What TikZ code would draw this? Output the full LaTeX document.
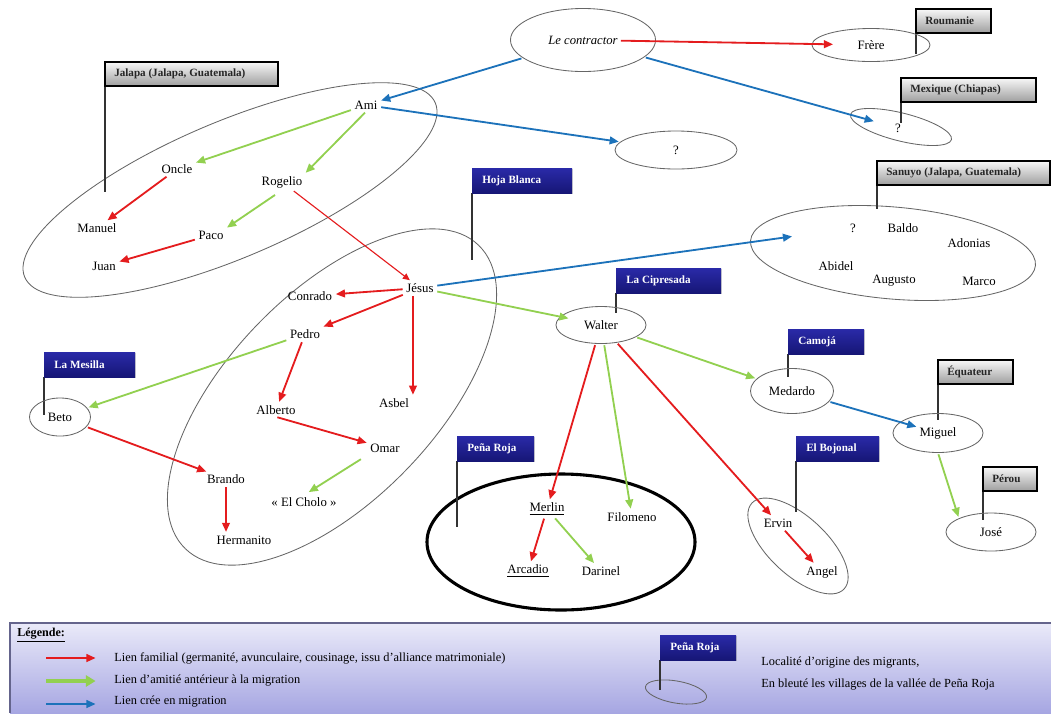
\documentclass[tikz,border=0pt]{standalone}
\usepackage{fontspec}
\setmainfont{Liberation Serif}
\usepackage{tikz}
\usetikzlibrary{arrows.meta,shapes.geometric,shadows}

\definecolor{famred}{RGB}{228,28,30}
\definecolor{amigreen}{RGB}{146,208,80}
\definecolor{migblue}{RGB}{28,114,186}
\definecolor{navytop}{RGB}{42,42,168}
\definecolor{navybot}{RGB}{22,22,118}
\definecolor{legtop}{RGB}{234,234,249}
\definecolor{legbot}{RGB}{166,166,226}
\definecolor{legline}{RGB}{100,100,140}

\tikzset{
  person/.style={inner sep=1.5pt, font=\fontsize{9.1}{11}\selectfont},
  solo/.style={ellipse, draw=black!60, line width=0.6pt, inner sep=0pt, font=\fontsize{9.1}{11}\selectfont},
  zone/.style={draw=black!60, line width=0.6pt},
  famlink/.style={draw=famred, line width=1.3pt, shorten >=1pt, shorten <=1pt, -{Triangle[length=6.5pt,width=5.5pt]}},
  amilink/.style={draw=amigreen, line width=1.3pt, shorten >=1pt, shorten <=1pt, -{Triangle[length=6.5pt,width=5.5pt]}},
  miglink/.style={draw=migblue, line width=1.3pt, shorten >=1pt, shorten <=1pt, -{Triangle[length=6.5pt,width=5.5pt]}},
  pole/.style={draw=black!80, line width=1pt},
  gflag/.style={draw=black, line width=0.9pt, top color=black!3, bottom color=black!38, drop shadow={shadow xshift=1pt, shadow yshift=-1pt, opacity=.35}},
  bflag/.style={top color=navytop, bottom color=navybot, drop shadow={shadow xshift=1pt, shadow yshift=-1pt, opacity=.35}},
  flagtext/.style={anchor=west, inner sep=0pt, font=\fontsize{7.9}{9}\selectfont\bfseries},
  legtext/.style={anchor=west, inner sep=0pt, font=\fontsize{8.8}{10}\selectfont},
}

\begin{document}
\begin{tikzpicture}[x=0.025cm, y=-0.025cm]
\useasboundingbox (0,0) rectangle (1051,713);

% legende (fond)
\shade[top color=legtop, bottom color=legbot] (10,623) rectangle (1051,713);
\draw[draw=legline, line width=0.8pt] (1051,623) -- (10,623) -- (10,713);

% zones
\draw[zone, rotate around={23:(230,190)}] (230,190) ellipse [x radius=223, y radius=68];
\draw[zone, rotate around={46:(332,397)}] (332,397) ellipse [x radius=211, y radius=104];
\draw[zone, rotate around={-5:(893,253)}] (893,253) ellipse [x radius=143, y radius=46];
\draw[zone, rotate around={-14:(901,127)}] (901,127) ellipse [x radius=52, y radius=14];
\draw[zone, rotate around={-43:(798,546)}] (798,546) ellipse [x radius=63, y radius=29];
\draw[line width=2.2pt] (561,542) ellipse [x radius=134, y radius=68];
\draw[zone, rotate around={-10:(676,692)}] (676,692) ellipse [x radius=31, y radius=11];

% drapeaux gris
\foreach \lbl/\xa/\ya/\xb/\yp [count=\i] in {{Jalapa (Jalapa, Guatemala)}/105/62/278/192, Roumanie/916/9/991/54, {Mexique (Chiapas)}/901/78/1036/123, {Sanuyo (Jalapa, Guatemala)}/877/161/1050/209, Équateur/938/360/1013/420, Pérou/983/467/1037/520}{
  \draw[pole] (\xa,\ya+24) -- (\xa,\yp);
  \path[gflag] (\xa,\ya) rectangle (\xb,\ya+24);
  \node[flagtext, text=black!85] (gf\i) at (\xa+9,\ya+12) {\lbl};
}

% drapeaux bleus (vallee de Pena Roja)
\foreach \lbl/\xa/\ya/\xb/\yp [count=\i] in {Hoja Blanca/472/168/572/260, La Cipresada/616/268/721/313, Camojá/788/329/864/377, La Mesilla/44/352/135/415, Peña Roja/457/436/534/527, El Bojonal/796/436/879/512, Peña Roja/660/635/736/690}{
  \draw[pole] (\xa,\ya+25) -- (\xa,\yp);
  \path[bflag] (\xa,\ya) rectangle (\xb,\ya+25);
  \node[flagtext, text=white] (bf\i) at (\xa+10,\ya+12.5) {\lbl};
}

% personnes seules
\node[solo, minimum width=3.625cm, minimum height=1.575cm, font=\fontsize{9}{11}\selectfont\itshape] (lc) at (583,40) {Le contractor};
\node[solo, minimum width=2.95cm, minimum height=0.825cm] (frere) at (871,45) {Frère};
\node[solo, minimum width=3.05cm, minimum height=0.95cm] (qmid) at (676,150) {?};
\node[person] (qmex) at (898,128) {?};
\node[solo, minimum width=2.25cm, minimum height=0.925cm] (walter) at (601,325) {Walter};
\node[solo, minimum width=2.075cm, minimum height=1.125cm] (medardo) at (792,391) {Medardo};
\node[solo, minimum width=2.25cm, minimum height=0.975cm] (miguel) at (938,433) {Miguel};
\node[solo, minimum width=2.25cm, minimum height=0.95cm] (jose) at (991,532) {José};
\node[solo, minimum width=1.525cm, minimum height=0.95cm] (beto) at (60,417) {Beto};

% Jalapa
\node[person] (ami) at (366,105) {Ami};
\node[person] (oncle) at (177,169) {Oncle};
\node[person] (rogelio) at (282,182) {Rogelio};
\node[person] (manuel) at (97,228) {Manuel};
\node[person] (paco) at (211,235) {Paco};
\node[person] (juan) at (104,266) {Juan};

% Hoja Blanca
\node[person] (jesus) at (420,288) {Jésus};
\node[person] (conrado) at (310,296) {Conrado};
\node[person] (pedro) at (305,334) {Pedro};
\node[person] (alberto) at (276,410) {Alberto};
\node[person] (asbel) at (394,403) {Asbel};
\node[person] (omar) at (385,448) {Omar};
\node[person] (brando) at (226,479) {Brando};
\node[person] (cholo) at (304,502) {« El Cholo »};
\node[person] (hermanito) at (244,540) {Hermanito};

% Pena Roja
\node[person] (merlin) at (547,509) {\underline{Merlin}};
\node[person] (filomeno) at (632,517) {Filomeno};
\node[person] (arcadio) at (528,571) {\underline{Arcadio}};
\node[person] (darinel) at (601,571) {Darinel};

% El Bojonal
\node[person] (ervin) at (778,523) {Ervin};
\node[person] (angel) at (822,572) {Angel};

% Sanuyo
\node[person] (sq) at (853,228) {?};
\node[person] (baldo) at (903,228) {Baldo};
\node[person] (adonias) at (969,243) {Adonias};
\node[person] (abidel) at (836,266) {Abidel};
\node[person] (augusto) at (894,281) {Augusto};
\node[person] (marco) at (979,281) {Marco};

% liens crees en migration
\draw[miglink] (lc) -- (ami);
\draw[miglink, shorten >=14pt] (lc) -- (qmex);
\draw[miglink] (ami) -- (qmid);
\draw[miglink, shorten >=40pt] (jesus) -- (sq);
\draw[miglink, shorten >=16pt] (medardo) -- (miguel.center);

% liens familiaux
\coordinate (jsa) at ([xshift=-5pt]jesus.south);
\draw[famlink, shorten <=27pt, shorten >=27pt] (lc.center) -- (frere.center);
\draw[famlink] (oncle) -- (manuel);
\draw[famlink, line width=0.8pt, -{Triangle[length=5pt,width=4.5pt]}] (rogelio) -- (jesus);
\draw[famlink] (paco) -- (juan);
\draw[famlink] (jesus) -- (conrado);
\draw[famlink] (jesus) -- (pedro);
\draw[famlink] (jsa) -- (jsa |- asbel.north);
\draw[famlink] (pedro) -- (alberto);
\draw[famlink] (alberto.south) -- (omar);
\draw[famlink] (beto) -- (brando);
\draw[famlink] (brando.south) -- (brando.south |- hermanito.north);
\draw[famlink] (walter) -- (merlin);
\draw[famlink] (walter) -- (ervin);
\draw[famlink] (merlin) -- (arcadio);
\draw[famlink] (ervin) -- (angel);

% liens d'amitie
\draw[amilink] (ami) -- (oncle);
\draw[amilink] (ami.south) -- (rogelio.north east);
\draw[amilink, shorten <=6pt] (rogelio.south) -- (paco.north east);
\draw[amilink, shorten >=-6pt] (jesus) -- (walter);
\draw[amilink] (pedro) -- (beto);
\draw[amilink, shorten <=6pt, shorten >=4pt] (omar.south west) -- (cholo.north);
\draw[amilink] (walter) -- (filomeno);
\draw[amilink] (walter) -- (medardo);
\draw[amilink] (miguel.south) -- (jose.north west);
\draw[amilink] (merlin) -- (darinel);

% legende
\node[anchor=west, inner sep=0pt, font=\fontsize{8.6}{10}\selectfont\bfseries] (legtitle) at (17,635) {\underline{Légende:}};
\coordinate (lfa) at (45,658); \coordinate (lfb) at (97,658);
\coordinate (laa) at (45,681); \coordinate (lab) at (97,681);
\coordinate (lma) at (45,704); \coordinate (lmb) at (97,704);
\draw[famlink] (lfa) -- (lfb);
\draw[amilink, line width=2.6pt, -{Triangle[length=7pt,width=8pt]}] (laa) -- (lab);
\draw[miglink] (lma) -- (lmb);
\node[legtext] (legfam) at (114,658) {Lien familial (germanité, avunculaire, cousinage, issu d'alliance matrimoniale)};
\node[legtext] (legami) at (114,681) {Lien d'amitié antérieur à la migration};
\node[legtext] (legmig) at (114,702) {Lien crée en migration};
\node[legtext] (legloc) at (761,663) {Localité d'origine des migrants,};
\node[legtext] (legval) at (761,685) {En bleuté les villages de la vallée de Peña Roja};
\end{tikzpicture}
\end{document}
